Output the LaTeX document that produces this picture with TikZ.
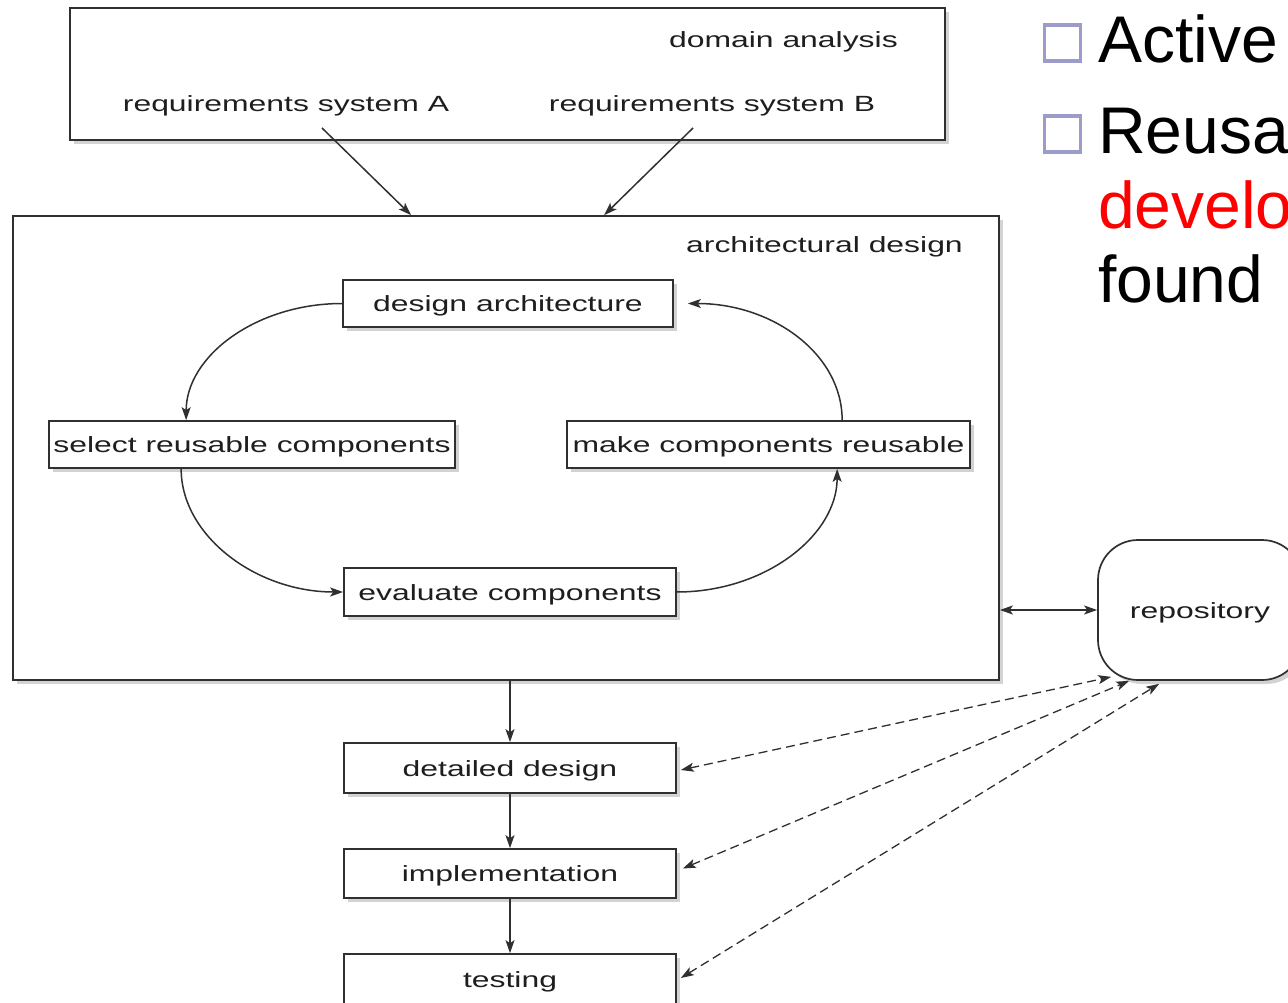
\documentclass[tikz,border=0pt]{standalone}
\usepackage{fontspec}
\setmainfont{Liberation Sans}
\newfontfamily\widesans[FakeStretch=1.45]{Liberation Sans}
\usetikzlibrary{arrows.meta,shadows,calc}
\definecolor{ink}{HTML}{303030}
\definecolor{labelink}{HTML}{1E1E1E}
\definecolor{bulletcol}{HTML}{9C9CCB}
\definecolor{hilite}{HTML}{FF0000}

\begin{document}
\begin{tikzpicture}[x=1pt,y=-1pt,
  every node/.style={font=\widesans\fontsize{22}{26}\selectfont, text=labelink},
  tip/.tip={Stealth[length=13pt,width=9pt,inset=3pt]},
  box/.style={draw=ink, line width=1.7pt, fill=white, inner sep=0pt,
    text height=16pt, text depth=0pt,
    drop shadow={shadow xshift=4pt, shadow yshift=-4pt, opacity=0.35}},
  lbl/.style={anchor=base east, inner sep=0pt},
  arr/.style={draw=ink, line width=1.5pt, -tip},
  dblarr/.style={draw=ink, line width=1.5pt, tip-tip},
  dasharr/.style={draw=ink, line width=1.3pt, dash pattern=on 9pt off 5pt, tip-tip},
  slide/.style={font=\fontsize{66}{79}\selectfont, anchor=base west, inner sep=0pt},
  bulletbox/.style={draw=bulletcol, line width=3.5pt, minimum size=36, inner sep=0pt},
]
\useasboundingbox (0,0) rectangle (1288,1003);
\clip (0,0) rectangle (1288,1003);

% domain analysis frame
\node[box, minimum width=875, minimum height=132] (domain) at (507.5,74) {};
\node[lbl] (domlbl) at (898,48) {domain analysis};
\node[anchor=base, inner sep=0pt] (reqA) at (286,112) {requirements system A};
\node[anchor=base, inner sep=0pt] (reqB) at (712,112) {requirements system B};

% architectural design frame
\node[box, minimum width=986, minimum height=464] (arch) at (506,448) {};
\node[lbl] (archlbl) at (963,253) {architectural design};

% inner design loop
\node[box, minimum width=330, minimum height=47] (design) at (508,303.5) {design architecture};
\node[box, minimum width=406, minimum height=47] (select) at (252,444.5) {select reusable components};
\node[box, minimum width=403, minimum height=47] (make) at (768.5,444.5) {make components reusable};
\node[box, minimum width=332, minimum height=48] (evaluate) at (510,592) {evaluate components};

% later stages
\node[box, minimum width=332, minimum height=50] (detailed) at (510,768) {detailed design};
\node[box, minimum width=332, minimum height=49] (impl) at (510,873.5) {implementation};
\node[box, minimum width=332, minimum height=50] (testing) at (510,979) {testing};

% repository
\node[box, rounded corners=40pt, minimum width=204, minimum height=140] (repo) at (1200,610) {repository};

% requirements feed into architectural design
\coordinate (reqAout) at (322,128);
\coordinate (reqBout) at (693,128);
\draw[arr] (reqAout) -- ($(arch.north west)+(399,0)$);
\draw[arr] (reqBout) -- ($(arch.north west)+(592,0)$);

% design loop
\draw[arr] (design.west) .. controls +(-86,0) and +(0,-64) .. ($(select.north west)+(138,0)$);
\draw[arr] ($(select.south west)+(133,0)$) .. controls +(0,67) and +(-87,0) .. (evaluate.west);
\draw[arr] (evaluate.east) .. controls +(89,0) and +(0,66) .. ($(make.south west)+(271,0)$);
\draw[arr] ($(make.north west)+(276,0)$) .. controls +(0,-66) and +(85,0) .. ($(design.east)+(14,0)$);

% flow downwards
\draw[arr] (detailed.north |- arch.south) -- (detailed.north);
\draw[arr] (detailed.south) -- (impl.north);
\draw[arr] (impl.south) -- (testing.north);

% repository links
\draw[dblarr] (arch.east |- repo.west) -- (repo.west);
\draw[dasharr] ($(detailed.east)+(4,2)$) -- ($(repo.south west)+(14,-4)$);
\draw[dasharr] ($(impl.east)+(6,-5)$) -- ($(repo.south west)+(32,0)$);
\draw[dasharr] ($(testing.east)+(4,-1)$) -- ($(repo.south west)+(62,3)$);

% bullet text on the right
\node[bulletbox] (b1) at (1062.5,43) {};
\node[bulletbox] (b2) at (1062.5,134) {};
\node[slide, text=black] (t1) at (1098,63) {Active};
\node[slide, text=black] (t2) at (1098,154) {Reusa};
\node[slide, text=hilite] (t3) at (1098,229) {develo};
\node[slide, text=black] (t4) at (1098,302) {found};
\end{tikzpicture}
\end{document}
